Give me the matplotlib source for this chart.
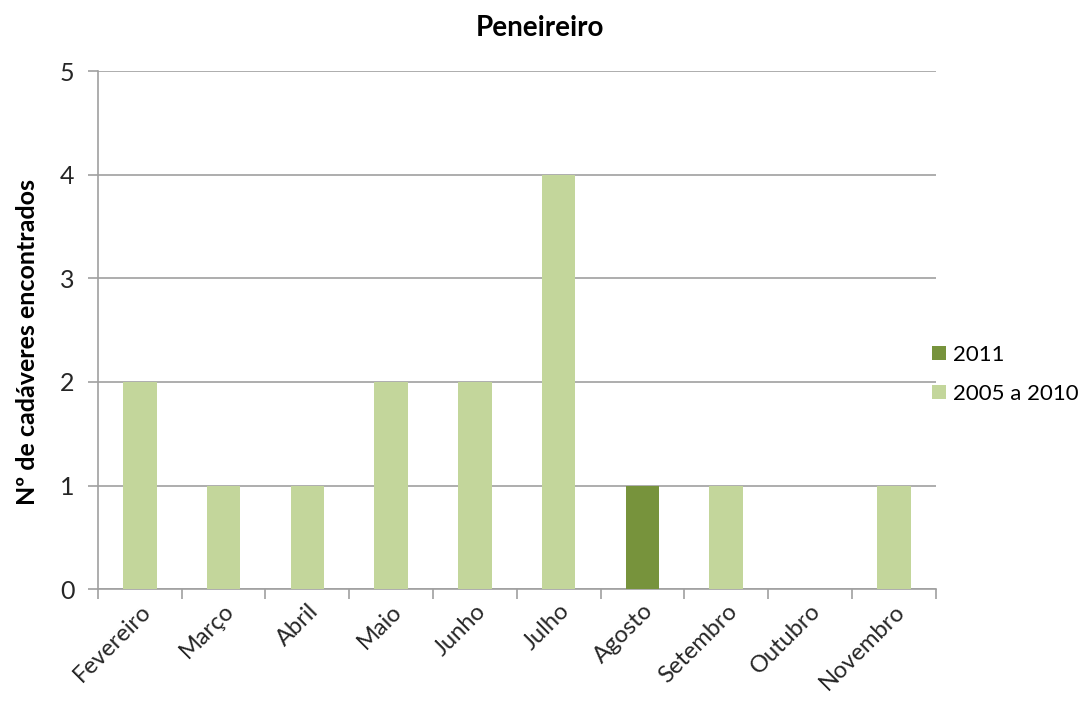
import numpy as np
import matplotlib.pyplot as plt

plt.rcParams['font.family'] = ['Lato', 'DejaVu Sans']

meses = ['Fevereiro', 'Março', 'Abril', 'Maio', 'Junho', 'Julho',
         'Agosto', 'Setembro', 'Outubro', 'Novembro']
anos_2005_2010 = [2, 1, 1, 2, 2, 4, 0, 1, 0, 1]
ano_2011 = [0, 0, 0, 0, 0, 0, 1, 0, 0, 0]

cor_2011 = '#77933C'
cor_antigos = '#C3D69B'
cinza = '#A0A0A0'

fig = plt.figure(figsize=(10.88, 7.04), dpi=100)
ax = fig.add_axes([0.090, 0.163, 0.770, 0.736])

x = np.arange(len(meses))
ax.bar(x, anos_2005_2010, width=0.4, color=cor_antigos, label='2005 a 2010', zorder=3)
ax.bar(x, ano_2011, width=0.4, bottom=anos_2005_2010, color=cor_2011, label='2011', zorder=3)

ax.set_xlim(-0.5, len(meses) - 0.5)
ax.set_ylim(0, 5)
ax.set_yticks(range(6))
ax.yaxis.grid(True, color=cinza, linewidth=1.2, zorder=0)

# ticks entre as categorias
ax.set_xticks(np.arange(-0.5, len(meses) + 0.5, 1))
ax.set_xticklabels([])
ax.set_xticks(x, minor=True)
ax.set_xticklabels(meses, minor=True, rotation=45, ha='right', rotation_mode='anchor', fontsize=17, color='#262626')
ax.tick_params(axis='x', which='minor', length=0, pad=8)
ax.tick_params(axis='x', which='major', length=7, color=cinza, width=1.2)
ax.tick_params(axis='y', length=7, color=cinza, width=1.2, labelsize=18, labelcolor='#262626', pad=10)

for lado in ['top', 'right']:
    ax.spines[lado].set_visible(False)
for lado in ['left', 'bottom']:
    ax.spines[lado].set_color(cinza)
    ax.spines[lado].set_linewidth(1.2)

fig.text(0.496, 0.96, 'Peneireiro', fontsize=20, fontweight='bold', ha='center', va='center')
ax.set_ylabel('Nº de cadáveres encontrados', fontsize=18, fontweight='bold')
ax.yaxis.set_label_coords(-0.07, 0.478)

handles, labels = ax.get_legend_handles_labels()
ax.legend(handles[::-1], labels[::-1], loc='center left', bbox_to_anchor=(0.972, 0.415),
          frameon=False, fontsize=16, handlelength=0.6, handleheight=0.6,
          handletextpad=0.35, labelspacing=0.85)

fig.savefig('out.png', dpi=100)
